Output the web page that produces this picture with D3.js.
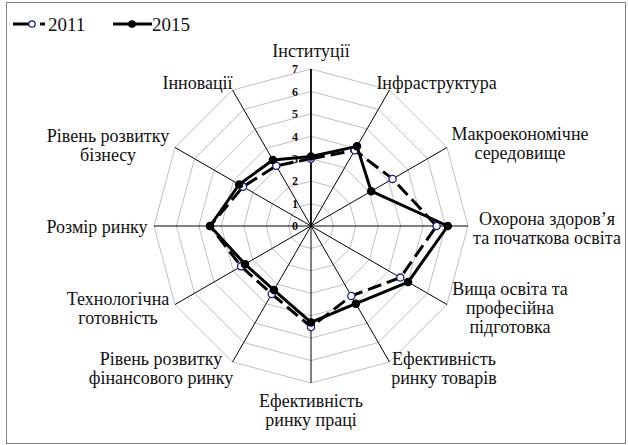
<!DOCTYPE html>
<html>
<head>
<meta charset="utf-8">
<script src="https://cdn.jsdelivr.net/npm/d3@7"></script>
<style>
  body { margin: 0; background: #fff; }
</style>
</head>
<body>
<svg id="radar" width="628" height="445"></svg>
<script>
// GCI pillars (axes, clockwise from top)
var categories = [
    ["Інституції"],
    ["Інфраструктура"],
    ["Макроекономічне", "середовище"],
    ["Охорона здоров’я", "та початкова освіта"],
    ["Вища освіта та", "професійна", "підготовка"],
    ["Ефективність", "ринку товарів"],
    ["Ефективність", "ринку праці"],
    ["Рівень розвитку", "фінансового ринку"],
    ["Технологічна", "готовність"],
    ["Розмір ринку"],
    ["Рівень розвитку", "бізнесу"],
    ["Інновації"]
];

var years = ["2011", "2015"];
var values2011 = [3.0, 3.9, 4.2, 5.6, 4.6, 3.6, 4.5, 3.5, 3.6, 4.5, 3.5, 3.1];
var values2015 = [3.1, 4.1, 3.1, 6.1, 5.0, 4.0, 4.3, 3.3, 3.4, 4.5, 3.7, 3.4];
var tickValues = [0, 1, 2, 3, 4, 5, 6, 7];

// label placement relative to the end of each spoke: [dx of centre, dy of first baseline]
var labelOffsets = [
    [0, -12], [47, -1], [73, -7.5], [79, -1.5], [63, -9.5], [54.5, 3],
    [0, 24], [-71.5, 3], [-57, 0.5], [-57, 7], [-67, -6], [-35, -1]
];

var font = "Liberation Serif";
var svg = d3.select("#radar");
var cx = 311, cy = 226, radius = 157;
var lineGap = 19;

// outer frame
svg.append("rect")
    .attr("x", 6.5).attr("y", 2.5)
    .attr("width", 619).attr("height", 441)
    .attr("fill", "none")
    .attr("stroke", "#7f7f7f")
    .attr("stroke-width", 1);

var r = d3.scaleLinear().domain([0, 7]).range([0, radius]);
var angle = d3.scaleLinear().domain([0, categories.length]).range([0, 2 * Math.PI]);

var chart = svg.append("g").attr("transform", "translate(" + cx + "," + cy + ")");

function px(i, v) { return r(v) * Math.sin(angle(i)); }
function py(i, v) { return -r(v) * Math.cos(angle(i)); }

// grid polygons
chart.append("g").selectAll("path")
    .data(tickValues.slice(1))
    .enter().append("path")
    .attr("d", function (t) {
        return d3.lineRadial()
            .angle(function (d, i) { return angle(i); })
            .radius(r(t))
            .curve(d3.curveLinearClosed)(categories);
    })
    .attr("fill", "none")
    .attr("stroke", "#c0c0c0")
    .attr("stroke-width", 1);

// spokes
chart.append("g").selectAll("line")
    .data(categories)
    .enter().append("line")
    .attr("x1", 0).attr("y1", 0)
    .attr("x2", function (d, i) { return px(i, 7); })
    .attr("y2", function (d, i) { return py(i, 7); })
    .attr("stroke", "#000")
    .attr("stroke-width", function (d, i) { return i === 0 ? 1.8 : 1; });

// value axis labels
chart.append("g").selectAll("text")
    .data(tickValues)
    .enter().append("text")
    .attr("x", -13)
    .attr("y", function (d) { return -r(d); })
    .attr("dy", "0.35em")
    .attr("text-anchor", "end")
    .style("font-family", font)
    .attr("font-size", 12)
    .attr("font-weight", "bold")
    .attr("fill", "#111")
    .text(function (d) { return d; });

// category labels
var labels = chart.append("g").selectAll("text")
    .data(categories)
    .enter().append("text")
    .attr("text-anchor", "middle")
    .style("font-family", font)
    .attr("font-size", 18)
    .attr("fill", "#111")
    .attr("transform", function (d, i) {
        return "translate(" + (px(i, 7) + labelOffsets[i][0]) + "," + (py(i, 7) + labelOffsets[i][1]) + ")";
    });
labels.selectAll("tspan")
    .data(function (d) { return d; })
    .enter().append("tspan")
    .attr("x", 0)
    .attr("y", function (d, j) { return j * lineGap; })
    .text(function (d) { return d; });

// series
var radar = d3.lineRadial()
    .angle(function (d, i) { return angle(i); })
    .radius(function (d) { return r(d); })
    .curve(d3.curveLinearClosed);

var series = [
    { name: years[0], values: values2011, dash: "14,6", fill: "#fff", stroke: "#1a1a99" },
    { name: years[1], values: values2015, dash: null, fill: "#000", stroke: "#000" }
];

series.forEach(function (s) {
    chart.append("path")
        .attr("d", radar(s.values))
        .attr("fill", "none")
        .attr("stroke", "#000")
        .attr("stroke-width", 3)
        .attr("stroke-linejoin", "round")
        .attr("stroke-dasharray", s.dash);
    chart.append("g").selectAll("circle")
        .data(s.values)
        .enter().append("circle")
        .attr("cx", function (d, i) { return px(i, d); })
        .attr("cy", function (d, i) { return py(i, d); })
        .attr("r", 3.6)
        .attr("fill", s.fill)
        .attr("stroke", s.stroke)
        .attr("stroke-width", 1.3);
});

// legend
var legend = svg.append("g").attr("transform", "translate(0, 24)");
var legendItems = [
    { x1: 13, x2: 45, text: 48, s: series[0] },
    { x1: 113, x2: 152, text: 152, s: series[1] }
];
legendItems.forEach(function (it) {
    legend.append("line")
        .attr("x1", it.x1).attr("x2", it.x2)
        .attr("y1", 0).attr("y2", 0)
        .attr("stroke", "#000")
        .attr("stroke-width", 3)
        .attr("stroke-dasharray", it.s.dash ? "17,10,5" : null);
    legend.append("circle")
        .attr("cx", it.x1 + 19)
        .attr("cy", 0)
        .attr("r", 3.2)
        .attr("fill", it.s.fill)
        .attr("stroke", it.s.stroke)
        .attr("stroke-width", 1.3);
    legend.append("text")
        .attr("x", it.text)
        .attr("y", 6.5)
        .style("font-family", font)
        .attr("font-size", 19)
        .attr("fill", "#111")
        .text(it.s.name);
});
</script>
</body>
</html>
